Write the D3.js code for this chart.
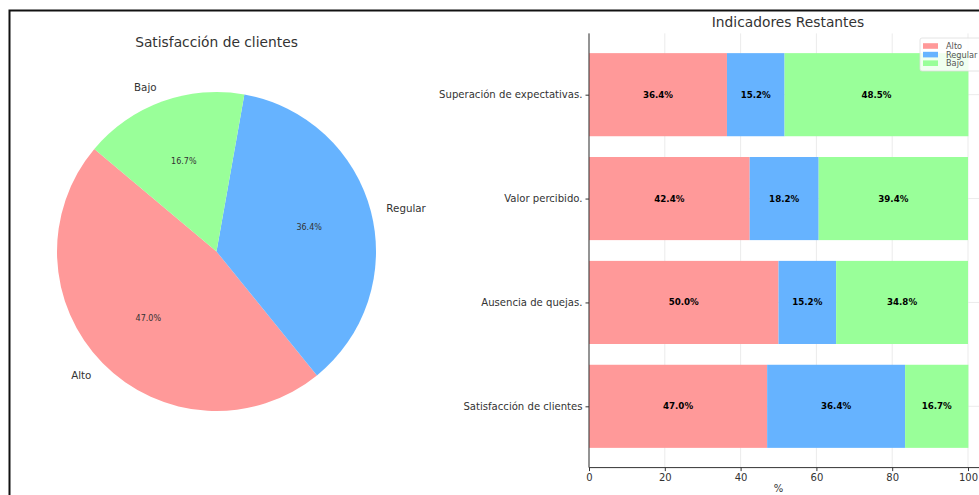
<!DOCTYPE html>
<html>
<head>
<meta charset="utf-8">
<script src="https://cdn.jsdelivr.net/npm/d3@7"></script>
<style>
  html, body { margin: 0; padding: 0; background: #fff; overflow: hidden; }
  svg { display: block; font-family: "DejaVu Sans", sans-serif; }
</style>
</head>
<body>
<svg id="chart" width="979" height="495"></svg>
<script>
// Pie: customer satisfaction distribution (%)
const pieCategories = ["Alto", "Regular", "Bajo"];
const pieValues = [47.0, 36.4, 16.7];

// Stacked bars: remaining indicators (%), listed bottom to top
const barIndicators = [
  "Satisfacción de clientes",
  "Ausencia de quejas.",
  "Valor percibido.",
  "Superación de expectativas."
];
const altoValues    = [47.0, 50.0, 42.4, 36.4];
const regularValues = [36.4, 15.2, 18.2, 15.2];
const bajoValues    = [16.7, 34.8, 39.4, 48.5];
const xTicks = [0, 20, 40, 60, 80, 100];

const levelNames = ["Alto", "Regular", "Bajo"];
const levelColors = ["#ff9999", "#66b3ff", "#99ff99"];

(function draw() {
  const svg = d3.select("#chart");
  const W = 979, H = 495;
  const textColor = "#333";

  // outer frame
  svg.append("rect")
    .attr("x", 9.5).attr("y", 10.5)
    .attr("width", W + 20).attr("height", H + 20)
    .attr("fill", "none").attr("stroke", "#111").attr("stroke-width", 2);

  // ---------- Pie ----------
  const cx = 216.5, cy = 251.5, R = 159.5;
  const color = d3.scaleOrdinal().domain(levelNames).range(levelColors);
  const startA = (90 - 140) * Math.PI / 180;   // first wedge starts at 140° counter-clockwise
  const pie = d3.pie().sort(null).value(d => d.v)
    .startAngle(startA).endAngle(startA - 2 * Math.PI);
  const pieData = pie(pieCategories.map((c, i) => ({ c, v: pieValues[i] })));
  const arc = d3.arc().innerRadius(0).outerRadius(R);

  const pg = svg.append("g").attr("transform", `translate(${cx},${cy})`);
  pg.selectAll("path.slice").data(pieData).join("path")
    .attr("class", "slice")
    .attr("d", arc)
    .attr("fill", d => color(d.data.c));

  const polar = (a, r) => [r * Math.sin(a), -r * Math.cos(a)];

  pg.selectAll("text.plabel").data(pieData).join("text")
    .attr("class", "plabel")
    .each(function(d) {
      const m = (d.startAngle + d.endAngle) / 2;
      const [px, py] = polar(m, R * 1.1);
      d3.select(this).attr("x", px).attr("y", py)
        .attr("text-anchor", px > 0 ? "start" : "end");
    })
    .attr("dominant-baseline", "central")
    .attr("font-size", 10.3).attr("fill", textColor)
    .text(d => d.data.c);

  pg.selectAll("text.ppct").data(pieData).join("text")
    .attr("class", "ppct")
    .each(function(d) {
      const m = (d.startAngle + d.endAngle) / 2;
      const [px, py] = polar(m, R * 0.6);
      d3.select(this).attr("x", px).attr("y", py);
    })
    .attr("text-anchor", "middle").attr("dominant-baseline", "central")
    .attr("font-size", 8).attr("fill", textColor)
    .text(d => d.data.v.toFixed(1) + "%");

  svg.append("text")
    .attr("x", cx).attr("y", 42)
    .attr("text-anchor", "middle").attr("dominant-baseline", "central")
    .attr("font-size", 13.8).attr("fill", textColor)
    .text("Satisfacción de clientes");

  // ---------- Stacked horizontal bars ----------
  const plotLeft = 589, plotTop = 33.4, plotBottom = 467.6;
  const x = d3.scaleLinear().domain([0, 100]).range([plotLeft, 968]);
  const y = d3.scaleLinear().domain([-0.59, 3.59]).range([plotBottom, plotTop]);
  const barH = y(0) - y(0.8);

  const bg = svg.append("g");

  // grid
  bg.selectAll("line.vgrid").data(xTicks).join("line")
    .attr("class", "vgrid")
    .attr("x1", d => x(d)).attr("x2", d => x(d))
    .attr("y1", plotTop).attr("y2", plotBottom)
    .attr("stroke", "#e6e6e6").attr("stroke-width", 0.8);
  bg.selectAll("line.hgrid").data(barIndicators).join("line")
    .attr("class", "hgrid")
    .attr("x1", plotLeft).attr("x2", W)
    .attr("y1", (d, i) => y(i)).attr("y2", (d, i) => y(i))
    .attr("stroke", "#e6e6e6").attr("stroke-width", 0.8);

  const series = [altoValues, regularValues, bajoValues];
  const rows = barIndicators.map((name, i) => {
    let acc = 0;
    return series.map((s, k) => {
      const seg = { name, i, k, v: s[i], x0: acc };
      acc += s[i];
      seg.x1 = acc;
      return seg;
    });
  }).flat();

  bg.selectAll("rect.seg").data(rows).join("rect")
    .attr("class", "seg")
    .attr("x", d => x(d.x0))
    .attr("width", d => x(d.x1) - x(d.x0))
    .attr("y", d => y(d.i) - barH / 2)
    .attr("height", barH)
    .attr("fill", d => levelColors[d.k]);

  bg.selectAll("text.seglabel").data(rows).join("text")
    .attr("class", "seglabel")
    .attr("x", d => (x(d.x0) + x(d.x1)) / 2)
    .attr("y", d => y(d.i))
    .attr("text-anchor", "middle").attr("dominant-baseline", "central")
    .attr("font-size", 8.7).attr("font-weight", "bold").attr("fill", "#000")
    .text(d => d.v.toFixed(1) + "%");

  // axes
  const xAxis = d3.axisBottom(x).tickValues(xTicks).tickFormat(d3.format("d"))
    .tickSize(3.5).tickPadding(3);
  const gx = bg.append("g").attr("transform", `translate(0,${plotBottom})`).call(xAxis);
  gx.select(".domain").remove();
  gx.append("line").attr("x1", plotLeft).attr("x2", W).attr("y1", 0).attr("y2", 0)
    .attr("stroke", "#333").attr("stroke-width", 1);
  gx.selectAll(".tick line").attr("stroke", "#333");
  gx.selectAll(".tick text").attr("font-size", 10).attr("fill", textColor)
    .attr("font-family", "DejaVu Sans");

  const yAxis = d3.axisLeft(y).tickValues(d3.range(barIndicators.length))
    .tickFormat(i => barIndicators[i]).tickSize(3.5).tickPadding(3);
  const gy = bg.append("g").attr("transform", `translate(${plotLeft},0)`).call(yAxis);
  gy.select(".domain").remove();
  gy.append("line").attr("x1", 0).attr("x2", 0).attr("y1", plotTop).attr("y2", plotBottom)
    .attr("stroke", "#333").attr("stroke-width", 1);
  gy.selectAll(".tick line").attr("stroke", "#333");
  gy.selectAll(".tick text").attr("font-size", 10.1).attr("fill", textColor)
    .attr("font-family", "DejaVu Sans");

  svg.append("text")
    .attr("x", (plotLeft + 968) / 2).attr("y", 488)
    .attr("text-anchor", "middle").attr("dominant-baseline", "central")
    .attr("font-size", 10).attr("fill", textColor).text("%");

  svg.append("text")
    .attr("x", 788).attr("y", 22)
    .attr("text-anchor", "middle").attr("dominant-baseline", "central")
    .attr("font-size", 13.8).attr("fill", textColor)
    .text("Indicadores Restantes");

  // legend
  const lg = svg.append("g").attr("transform", "translate(920,38)");
  lg.append("rect").attr("x", 0).attr("y", 0).attr("width", 80).attr("height", 33)
    .attr("rx", 2).attr("fill", "#fff").attr("fill-opacity", 0.85)
    .attr("stroke", "#ddd").attr("stroke-width", 0.8);
  const li = lg.selectAll("g.item").data(levelNames).join("g")
    .attr("class", "item")
    .attr("transform", (d, i) => `translate(3,${8 + i * 8.6})`);
  li.append("rect").attr("x", 0).attr("y", -2.8).attr("width", 15).attr("height", 5.6)
    .attr("fill", (d, i) => levelColors[i]);
  li.append("text").attr("x", 23).attr("y", 0)
    .attr("dominant-baseline", "central").attr("font-size", 8.2).attr("fill", "#555")
    .text(d => d);
})();
</script>
</body>
</html>
